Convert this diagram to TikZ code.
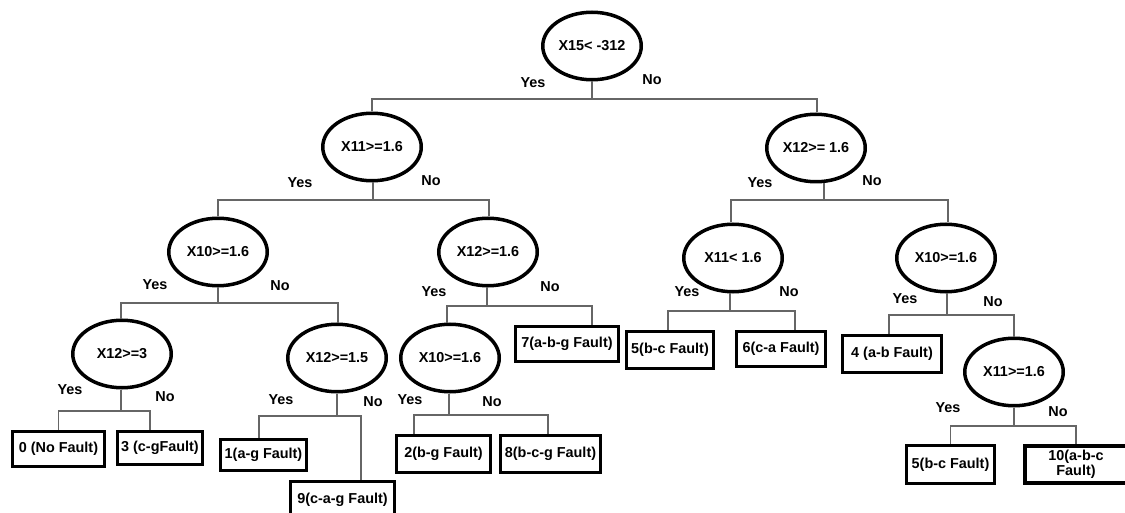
\documentclass[tikz,border=0pt]{standalone}
\usepackage{fontspec}
\setmainfont{Liberation Sans}
\usetikzlibrary{shapes.geometric}
\begin{document}
\begin{tikzpicture}[x=1pt,y=-1pt,
  every node/.style={font=\fontsize{14.4}{15.5}\selectfont\bfseries},
  test/.style={ellipse,draw,line width=3.5pt,minimum width=98.5pt,minimum height=67.5pt,inner sep=0pt},
  leaf/.style={rectangle,draw,line width=3.5pt,inner sep=0pt,align=center},
  conn/.style={draw=black!60,line width=1.2pt},
  lbl/.style={inner sep=0pt}]
\fill[white] (0,0) rectangle (1125,513);
\clip (0,0) rectangle (1125,513);
% tests
\node[test] (root) at (592,46) {X15< -312};
\node[test] (A) at (372,147) {X11>=1.6};
\node[test] (B) at (816,148) {X12>= 1.6};
\node[test] (C) at (218,252) {X10>=1.6};
\node[test] (D) at (488,252) {X12>=1.6};
\node[test] (E) at (733,258) {X11< 1.6};
\node[test] (F) at (946,258) {X10>=1.6};
\node[test] (G) at (122,354) {X12>=3};
\node[test] (H) at (337,358) {X12>=1.5};
\node[test] (I) at (450,358) {X10>=1.6};
\node[test] (J) at (1014,372) {X11>=1.6};
% leaves
\node[leaf,minimum width=92pt,minimum height=35pt] (b0) at (58.5,449) {0 (No Fault)};
\node[leaf,minimum width=85pt,minimum height=33pt] (b3) at (160,448) {3 (c-gFault)};
\node[leaf,minimum width=86pt,minimum height=31pt] (b1) at (263.5,455) {1(a-g Fault)};
\node[leaf,minimum width=104pt,minimum height=37pt] (b9) at (342.5,500) {9(c-a-g Fault)};
\node[leaf,minimum width=94pt,minimum height=37pt] (b2) at (443.5,454) {2(b-g Fault)};
\node[leaf,minimum width=100pt,minimum height=37pt] (b8) at (550.5,454) {8(b-c-g Fault)};
\node[leaf,minimum width=103pt,minimum height=35pt] (b7) at (567,344) {7(a-b-g Fault)};
\node[leaf,minimum width=87pt,minimum height=37pt] (b5) at (670,350) {5(b-c Fault)};
\node[leaf,minimum width=89pt,minimum height=35pt] (b6) at (781,349) {6(c-a Fault)};
\node[leaf,minimum width=99pt,minimum height=37pt] (b4) at (892,354) {4 (a-b Fault)};
\node[leaf,minimum width=88pt,minimum height=38pt] (b5b) at (950.5,464.5) {5(b-c Fault)};
\node[leaf,minimum width=102pt,minimum height=37pt] (b10) at (1076,464.5) {10(a-b-c\\Fault)};
% junctions
\coordinate (j0) at (592,99);
\coordinate (jA) at (373,200);
\coordinate (jB) at (824,200);
\coordinate (jC) at (218,303);
\coordinate (jD) at (487,306);
\coordinate (jE) at (730,311);
\coordinate (jF) at (947,315);
\coordinate (jG) at (121,411);
\coordinate (jH) at (337,416);
\coordinate (jI) at (449,415);
\coordinate (jJ) at (1014,426);
% connectors
\draw[conn] (root.south -| j0) -- (j0);
\draw[conn] (A.north) |- (j0) -| ([xshift=1pt]B.north);
\draw[conn] (A.south -| jA) -- (jA);
\draw[conn] (C.north) |- (jA) -| ([xshift=1pt]D.north);
\draw[conn] ([xshift=8pt]B.south) -- (jB);
\draw[conn] ([xshift=-2pt]E.north) |- (jB) -| ([xshift=2pt]F.north);
\draw[conn] (C.south -| jC) -- (jC);
\draw[conn] ([xshift=-1pt]G.north) |- (jC) -| ([xshift=1pt]H.north);
\draw[conn] (D.south -| jD) -- (jD);
\draw[conn] ([xshift=-3pt]I.north) |- (jD) -| ([xshift=25pt]b7.north);
\draw[conn] (E.south -| jE) -- (jE);
\draw[conn] ([xshift=-2pt]b5.north) |- (jE) -| ([xshift=14pt]b6.north);
\draw[conn] (F.south -| jF) -- (jF);
\draw[conn] ([xshift=-3pt]b4.north) |- (jF) -| (J.north);
\draw[conn] (G.south -| jG) -- (jG);
\draw[conn] (b0.north) |- (jG) -| ([xshift=-10pt]b3.north);
\draw[conn] (H.south -| jH) -- (jH);
\draw[conn] ([xshift=-4.5pt]b1.north) |- (jH) -| ([xshift=18.5pt]b9.north);
\draw[conn] (I.south -| jI) -- (jI);
\draw[conn] ([xshift=-29.5pt]b2.north) |- (jI) -| ([xshift=-2.5pt]b8.north);
\draw[conn] (J.south -| jJ) -- (jJ);
\draw[conn] (b5b.north) |- (jJ) -| (b10.north);
% labels
\node[lbl] (y0) at (533,83) {Yes};  \node[lbl] (n0) at (652,80) {No};
\node[lbl] (yA) at (300,183) {Yes}; \node[lbl] (nA) at (431,181) {No};
\node[lbl] (yB) at (760,183) {Yes}; \node[lbl] (nB) at (872,181) {No};
\node[lbl] (yC) at (155,285) {Yes}; \node[lbl] (nC) at (280,286) {No};
\node[lbl] (yD) at (434,292) {Yes}; \node[lbl] (nD) at (550,287) {No};
\node[lbl] (yE) at (687,292) {Yes}; \node[lbl] (nE) at (789,292) {No};
\node[lbl] (yF) at (905,299) {Yes}; \node[lbl] (nF) at (993,302) {No};
\node[lbl] (yG) at (70,390) {Yes};  \node[lbl] (nG) at (165,397) {No};
\node[lbl] (yH) at (281,400) {Yes}; \node[lbl] (nH) at (373,402) {No};
\node[lbl] (yI) at (410,400) {Yes}; \node[lbl] (nI) at (492,402) {No};
\node[lbl] (yJ) at (948,408) {Yes}; \node[lbl] (nJ) at (1058,412) {No};
\end{tikzpicture}
\end{document}
